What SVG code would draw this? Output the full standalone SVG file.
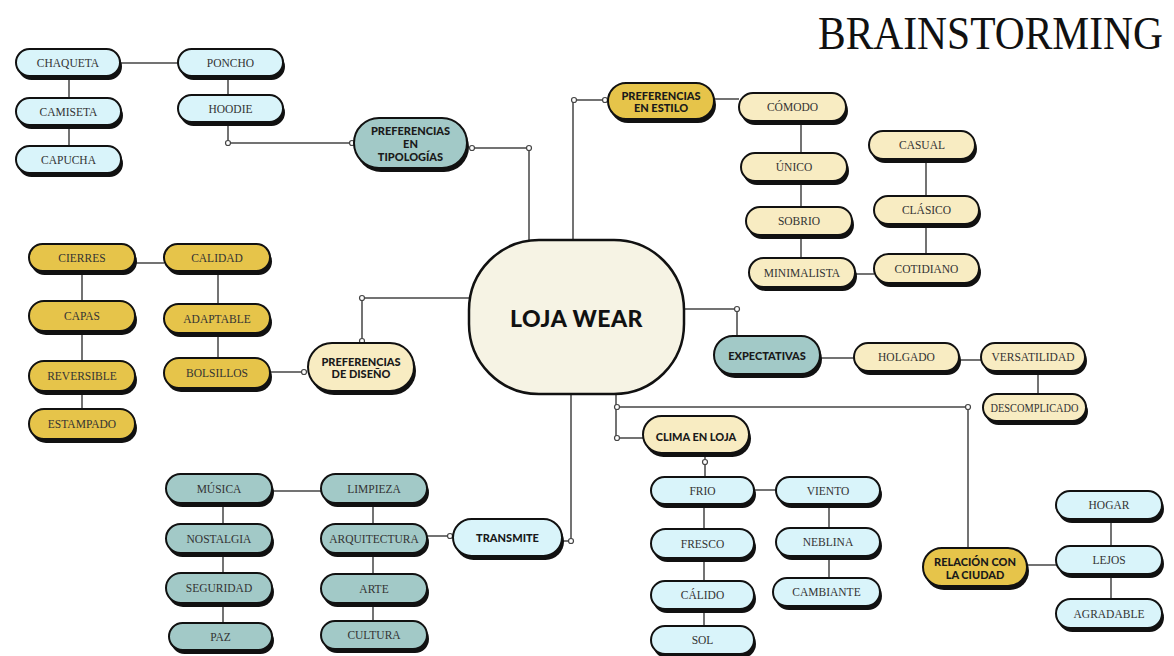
<svg xmlns="http://www.w3.org/2000/svg" width="1174" height="656" viewBox="0 0 1174 656">
<style>
.sh{fill:#111}
.bx{stroke:#111;stroke-width:2}
.blue .bx{fill:#d9f4fa}
.teal .bx{fill:#a2c9c7}
.gold .bx{fill:#e6c44a}
.cream .bx{fill:#f8ecc2}
.t{font-family:"Liberation Serif",serif;font-size:11.5px;fill:#333;text-anchor:middle}
.h{font-family:Lato,"DejaVu Sans",sans-serif;font-weight:900;font-size:11px;fill:#1a1a1a;text-anchor:middle}
#connectors path{stroke:#454545;stroke-width:1.5;fill:none}
#connectors circle{fill:#fff;stroke:#454545;stroke-width:1.2}
</style>
<rect width="1174" height="656" fill="#fff"/>
<text transform="translate(818,49) scale(1,1.14)" x="0" y="0" font-family="Liberation Serif, serif" font-size="41.5" fill="#111">BRAINSTORMING</text>
<g id="connectors">
<path d="M120 63H178M69 76V98M69 125V146M228 76V95M228 122V143H352"/>
<path d="M469 148H529V240M573 240V100H607M714 99H739M801 121V258M855 274H874M926 159V254"/>
<path d="M135 263H164M82 271V409M218 271V358M270 372H304M362 343V298H469"/>
<path d="M684 309H737V336M820 358H854M959 360H981M1038 371V394"/>
<path d="M616 394V438H643M616 407H968V548M705 453V477M754 490H776M704 504V626M829 504V578"/>
<path d="M1027 565H1056M1111 519V599"/>
<path d="M272 491H321M223 503V623M373 503V621M427 536H453M562 541H571V394"/>
<circle cx="228" cy="143" r="2.5"/><circle cx="352" cy="143" r="2.5"/>
<circle cx="472" cy="148" r="2.5"/><circle cx="529" cy="148" r="2.5"/>
<circle cx="574" cy="100" r="2.5"/><circle cx="605" cy="100" r="2.5"/>
<circle cx="304" cy="372" r="2.5"/><circle cx="362" cy="341" r="2.5"/><circle cx="362" cy="298" r="2.5"/>
<circle cx="737" cy="309" r="2.5"/>
<circle cx="617" cy="407" r="2.5"/><circle cx="617" cy="438" r="2.5"/><circle cx="968" cy="407" r="2.5"/>
<circle cx="705" cy="462" r="2.5"/>
<circle cx="450" cy="536" r="2.5"/><circle cx="571" cy="541" r="2.5"/>
</g>
<g id="n-chaqueta" class="blue"><rect class="sh" x="18" y="53" width="104" height="27" rx="13.5"/><rect class="bx" x="16" y="49" width="104" height="27" rx="13.5"/><text class="t" x="68" y="66.5">CHAQUETA</text></g>
<g id="n-poncho" class="blue"><rect class="sh" x="180" y="53" width="105" height="27" rx="13.5"/><rect class="bx" x="178" y="49" width="105" height="27" rx="13.5"/><text class="t" x="230.5" y="66.5">PONCHO</text></g>
<g id="n-camiseta" class="blue"><rect class="sh" x="18" y="102" width="105" height="27" rx="13.5"/><rect class="bx" x="16" y="98" width="105" height="27" rx="13.5"/><text class="t" x="68.5" y="115.5">CAMISETA</text></g>
<g id="n-hoodie" class="blue"><rect class="sh" x="180" y="99" width="105" height="27" rx="13.5"/><rect class="bx" x="178" y="95" width="105" height="27" rx="13.5"/><text class="t" x="230.5" y="112.5">HOODIE</text></g>
<g id="n-capucha" class="blue"><rect class="sh" x="18" y="150" width="105" height="27" rx="13.5"/><rect class="bx" x="16" y="146" width="105" height="27" rx="13.5"/><text class="t" x="68.5" y="163.5">CAPUCHA</text></g>
<g id="n-tipologias" class="teal"><rect class="sh" x="356" y="122" width="113" height="50" rx="25"/><rect class="bx" x="354" y="118" width="113" height="50" rx="25"/><text class="h" x="410.5" y="135">PREFERENCIAS</text><text class="h" x="410.5" y="148">EN</text><text class="h" x="410.5" y="161">TIPOLOGÍAS</text></g>
<g id="n-estilo" class="gold"><rect class="sh" x="610" y="87" width="106" height="36" rx="18"/><rect class="bx" x="608" y="83" width="106" height="36" rx="18"/><text class="h" x="661" y="100">PREFERENCIAS</text><text class="h" x="661" y="112">EN ESTILO</text></g>
<g id="n-comodo" class="cream"><rect class="sh" x="741" y="97" width="107" height="28" rx="14"/><rect class="bx" x="739" y="93" width="107" height="28" rx="14"/><text class="t" x="792.5" y="111">CÓMODO</text></g>
<g id="n-unico" class="cream"><rect class="sh" x="743" y="157" width="106" height="28" rx="14"/><rect class="bx" x="741" y="153" width="106" height="28" rx="14"/><text class="t" x="794" y="171">ÚNICO</text></g>
<g id="n-sobrio" class="cream"><rect class="sh" x="748" y="211" width="106" height="28" rx="14"/><rect class="bx" x="746" y="207" width="106" height="28" rx="14"/><text class="t" x="799" y="225">SOBRIO</text></g>
<g id="n-minimalista" class="cream"><rect class="sh" x="751" y="262" width="106" height="29" rx="14.5"/><rect class="bx" x="749" y="258" width="106" height="29" rx="14.5"/><text class="t" x="802" y="276.5">MINIMALISTA</text></g>
<g id="n-casual" class="cream"><rect class="sh" x="871" y="135" width="106" height="28" rx="14"/><rect class="bx" x="869" y="131" width="106" height="28" rx="14"/><text class="t" x="922" y="149">CASUAL</text></g>
<g id="n-clasico" class="cream"><rect class="sh" x="876" y="200" width="105" height="28" rx="14"/><rect class="bx" x="874" y="196" width="105" height="28" rx="14"/><text class="t" x="926.5" y="214">CLÁSICO</text></g>
<g id="n-cotidiano" class="cream"><rect class="sh" x="876" y="258" width="105" height="29" rx="14.5"/><rect class="bx" x="874" y="254" width="105" height="29" rx="14.5"/><text class="t" x="926.5" y="272.5">COTIDIANO</text></g>
<g id="n-cierres" class="gold"><rect class="sh" x="31" y="248" width="106" height="27" rx="13.5"/><rect class="bx" x="29" y="244" width="106" height="27" rx="13.5"/><text class="t" x="82" y="261.5">CIERRES</text></g>
<g id="n-calidad" class="gold"><rect class="sh" x="166" y="248" width="106" height="27" rx="13.5"/><rect class="bx" x="164" y="244" width="106" height="27" rx="13.5"/><text class="t" x="217" y="261.5">CALIDAD</text></g>
<g id="n-capas" class="gold"><rect class="sh" x="31" y="305" width="106" height="30" rx="15"/><rect class="bx" x="29" y="301" width="106" height="30" rx="15"/><text class="t" x="82" y="320">CAPAS</text></g>
<g id="n-adaptable" class="gold"><rect class="sh" x="166" y="308" width="106" height="29" rx="14.5"/><rect class="bx" x="164" y="304" width="106" height="29" rx="14.5"/><text class="t" x="217" y="322.5">ADAPTABLE</text></g>
<g id="n-reversible" class="gold"><rect class="sh" x="31" y="365" width="106" height="30" rx="15"/><rect class="bx" x="29" y="361" width="106" height="30" rx="15"/><text class="t" x="82" y="380">REVERSIBLE</text></g>
<g id="n-bolsillos" class="gold"><rect class="sh" x="166" y="362" width="106" height="30" rx="15"/><rect class="bx" x="164" y="358" width="106" height="30" rx="15"/><text class="t" x="217" y="377">BOLSILLOS</text></g>
<g id="n-estampado" class="gold"><rect class="sh" x="31" y="413" width="106" height="30" rx="15"/><rect class="bx" x="29" y="409" width="106" height="30" rx="15"/><text class="t" x="82" y="428">ESTAMPADO</text></g>
<g id="n-diseno" class="cream"><rect class="sh" x="310" y="347" width="106" height="48" rx="24"/><rect class="bx" x="308" y="343" width="106" height="48" rx="24"/><text class="h" x="361" y="365.5">PREFERENCIAS</text><text class="h" x="361" y="377.5">DE DISEÑO</text></g>
<g id="n-loja"><rect x="469" y="240" width="215" height="154" rx="70" fill="#f6f3e4" stroke="#111" stroke-width="2.5"/><text x="576.5" y="327" font-family="Lato, 'DejaVu Sans', sans-serif" font-weight="900" font-size="23" fill="#111" text-anchor="middle" letter-spacing="0.5">LOJA WEAR</text></g>
<g id="n-expectativas" class="teal"><rect class="sh" x="716" y="340" width="106" height="38" rx="19"/><rect class="bx" x="714" y="336" width="106" height="38" rx="19"/><text class="h" x="767" y="360">EXPECTATIVAS</text></g>
<g id="n-holgado" class="cream"><rect class="sh" x="856" y="347" width="105" height="28" rx="14"/><rect class="bx" x="854" y="343" width="105" height="28" rx="14"/><text class="t" x="906.5" y="361">HOLGADO</text></g>
<g id="n-versatilidad" class="cream"><rect class="sh" x="983" y="347" width="104" height="28" rx="14"/><rect class="bx" x="981" y="343" width="104" height="28" rx="14"/><text class="t" x="1033" y="361">VERSATILIDAD</text></g>
<g id="n-descomplicado" class="cream"><rect class="sh" x="985" y="398" width="103" height="27" rx="13.5"/><rect class="bx" x="983" y="394" width="103" height="27" rx="13.5"/><text class="t" x="1034.5" y="411.5" textLength="88" lengthAdjust="spacingAndGlyphs">DESCOMPLICADO</text></g>
<g id="n-clima" class="cream"><rect class="sh" x="645" y="420" width="106" height="37" rx="18.5"/><rect class="bx" x="643" y="416" width="106" height="37" rx="18.5"/><text class="h" x="696" y="441">CLIMA EN LOJA</text></g>
<g id="n-frio" class="blue"><rect class="sh" x="653" y="481" width="103" height="27" rx="13.5"/><rect class="bx" x="651" y="477" width="103" height="27" rx="13.5"/><text class="t" x="702.5" y="494.5">FRIO</text></g>
<g id="n-viento" class="blue"><rect class="sh" x="778" y="481" width="104" height="27" rx="13.5"/><rect class="bx" x="776" y="477" width="104" height="27" rx="13.5"/><text class="t" x="828" y="494.5">VIENTO</text></g>
<g id="n-fresco" class="blue"><rect class="sh" x="653" y="533" width="103" height="29" rx="14.5"/><rect class="bx" x="651" y="529" width="103" height="29" rx="14.5"/><text class="t" x="702.5" y="547.5">FRESCO</text></g>
<g id="n-neblina" class="blue"><rect class="sh" x="778" y="532" width="104" height="28" rx="14"/><rect class="bx" x="776" y="528" width="104" height="28" rx="14"/><text class="t" x="828" y="546">NEBLINA</text></g>
<g id="n-calido" class="blue"><rect class="sh" x="653" y="585" width="103" height="28" rx="14"/><rect class="bx" x="651" y="581" width="103" height="28" rx="14"/><text class="t" x="702.5" y="599">CÁLIDO</text></g>
<g id="n-cambiante" class="blue"><rect class="sh" x="775" y="582" width="107" height="28" rx="14"/><rect class="bx" x="773" y="578" width="107" height="28" rx="14"/><text class="t" x="826.5" y="596">CAMBIANTE</text></g>
<g id="n-sol" class="blue"><rect class="sh" x="653" y="630" width="103" height="28" rx="14"/><rect class="bx" x="651" y="626" width="103" height="28" rx="14"/><text class="t" x="702.5" y="644">SOL</text></g>
<g id="n-relacion" class="gold"><rect class="sh" x="925" y="552" width="104" height="38" rx="19"/><rect class="bx" x="923" y="548" width="104" height="38" rx="19"/><text class="h" x="975" y="566">RELACIÓN CON</text><text class="h" x="975" y="579">LA CIUDAD</text></g>
<g id="n-hogar" class="blue"><rect class="sh" x="1058" y="495" width="106" height="28" rx="14"/><rect class="bx" x="1056" y="491" width="106" height="28" rx="14"/><text class="t" x="1109" y="509">HOGAR</text></g>
<g id="n-lejos" class="blue"><rect class="sh" x="1058" y="550" width="106" height="28" rx="14"/><rect class="bx" x="1056" y="546" width="106" height="28" rx="14"/><text class="t" x="1109" y="564">LEJOS</text></g>
<g id="n-agradable" class="blue"><rect class="sh" x="1058" y="603" width="106" height="29" rx="14.5"/><rect class="bx" x="1056" y="599" width="106" height="29" rx="14.5"/><text class="t" x="1109" y="617.5">AGRADABLE</text></g>
<g id="n-musica" class="teal"><rect class="sh" x="168" y="478" width="106" height="29" rx="14.5"/><rect class="bx" x="166" y="474" width="106" height="29" rx="14.5"/><text class="t" x="219" y="492.5">MÚSICA</text></g>
<g id="n-limpieza" class="teal"><rect class="sh" x="323" y="478" width="106" height="29" rx="14.5"/><rect class="bx" x="321" y="474" width="106" height="29" rx="14.5"/><text class="t" x="374" y="492.5">LIMPIEZA</text></g>
<g id="n-nostalgia" class="teal"><rect class="sh" x="168" y="528" width="106" height="29" rx="14.5"/><rect class="bx" x="166" y="524" width="106" height="29" rx="14.5"/><text class="t" x="219" y="542.5">NOSTALGIA</text></g>
<g id="n-arquitectura" class="teal"><rect class="sh" x="323" y="528" width="106" height="29" rx="14.5"/><rect class="bx" x="321" y="524" width="106" height="29" rx="14.5"/><text class="t" x="374" y="542.5">ARQUITECTURA</text></g>
<g id="n-seguridad" class="teal"><rect class="sh" x="168" y="577" width="106" height="30" rx="15"/><rect class="bx" x="166" y="573" width="106" height="30" rx="15"/><text class="t" x="219" y="592">SEGURIDAD</text></g>
<g id="n-arte" class="teal"><rect class="sh" x="323" y="578" width="106" height="29" rx="14.5"/><rect class="bx" x="321" y="574" width="106" height="29" rx="14.5"/><text class="t" x="374" y="592.5">ARTE</text></g>
<g id="n-paz" class="teal"><rect class="sh" x="171" y="627" width="103" height="27" rx="13.5"/><rect class="bx" x="169" y="623" width="103" height="27" rx="13.5"/><text class="t" x="220.5" y="640.5">PAZ</text></g>
<g id="n-cultura" class="teal"><rect class="sh" x="323" y="625" width="106" height="28" rx="14"/><rect class="bx" x="321" y="621" width="106" height="28" rx="14"/><text class="t" x="374" y="639">CULTURA</text></g>
<g id="n-transmite" class="blue"><rect class="sh" x="455" y="523" width="109" height="37" rx="18.5"/><rect class="bx" x="453" y="519" width="109" height="37" rx="18.5"/><text class="h" x="507.5" y="541.5">TRANSMITE</text></g>
</svg>
